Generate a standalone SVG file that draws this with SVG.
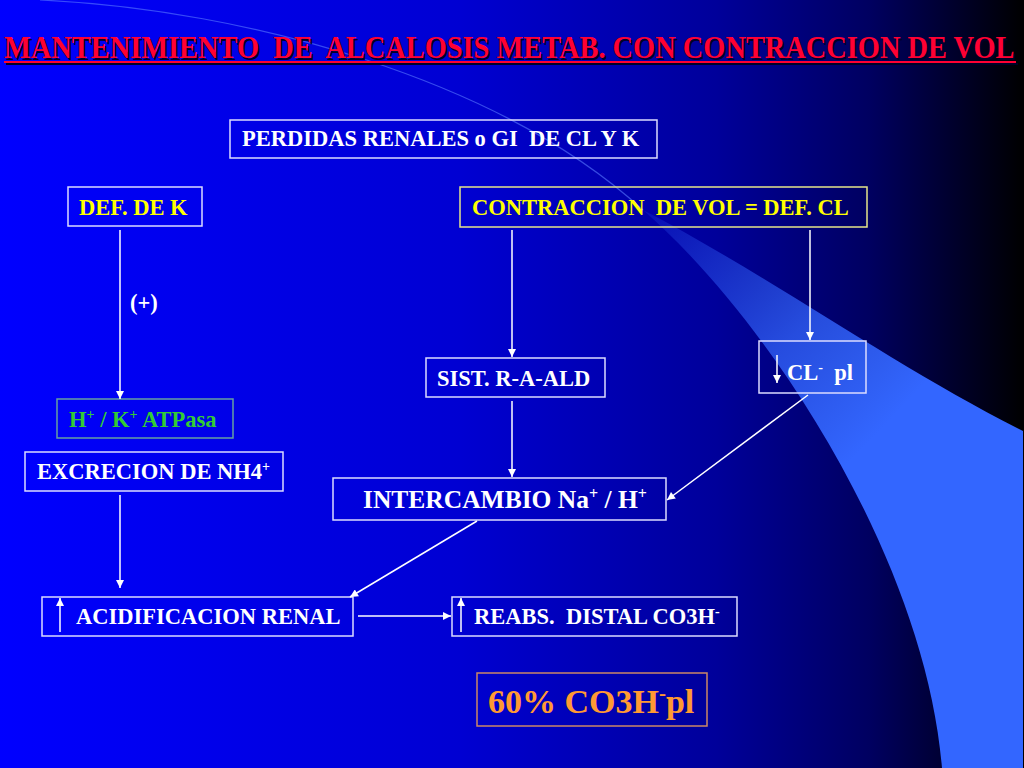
<svg xmlns="http://www.w3.org/2000/svg" width="1024" height="768" viewBox="0 0 1024 768">
<defs>
  <linearGradient id="bg" x1="0" y1="0" x2="1" y2="0">
    <stop offset="0" stop-color="#0000ff"/>
    <stop offset="0.45" stop-color="#0000d2"/>
    <stop offset="0.7" stop-color="#00009a"/>
    <stop offset="0.85" stop-color="#000060"/>
    <stop offset="0.95" stop-color="#000020"/>
    <stop offset="1" stop-color="#000000"/>
  </linearGradient>
  <linearGradient id="sw" gradientUnits="userSpaceOnUse" x1="650" y1="210" x2="880" y2="430">
    <stop offset="0" stop-color="#3366ff" stop-opacity="0.15"/>
    <stop offset="0.6" stop-color="#3366ff" stop-opacity="0.75"/>
    <stop offset="1" stop-color="#3366ff" stop-opacity="1"/>
  </linearGradient>
  <marker id="ah" viewBox="0 0 10 10" refX="10" refY="5" markerWidth="9" markerHeight="8" markerUnits="userSpaceOnUse" orient="auto">
    <path d="M0,0 L10,5 L0,10 z" fill="#ffffff"/>
  </marker>
</defs>
<style>
  .box{fill:none;stroke:#dcdcff;stroke-width:1.5}
  .t{font-family:"Liberation Serif","Times New Roman",serif;font-weight:bold;font-size:22.5px;white-space:pre}
  .ttl{font-size:31px}
  .w{fill:#ffffff}
  .y{fill:#ffff00}
  .g{fill:#33cc33}
  .o{fill:#ff9933}
  .c{fill:none;stroke:#ffffff;stroke-width:1.5;marker-end:url(#ah)}
</style>

<rect x="0" y="0" width="1024" height="768" fill="url(#bg)"/>
<path d="M643,210 C760,270 900,370 1023,431 L1023,768 L942,768 C925,560 770,320 643,210 Z" fill="url(#sw)"/>
<path d="M40,0 C250,10 500,80 643,210" fill="none" stroke="#5a7cff" stroke-width="1.2" stroke-opacity="0.6"/>

<g id="title">
  <g transform="translate(6,60) scale(0.916,1)">
    <text x="0" y="0" class="t ttl" fill="#000028">MANTENIMIENTO  DE  ALCALOSIS METAB. CON CONTRACCION DE VOL</text>
  </g>
  <rect x="6" y="63" width="1012" height="2" fill="#000028"/>
  <g transform="translate(4,58) scale(0.916,1)">
    <text x="0" y="0" class="t ttl" fill="#ff0033">MANTENIMIENTO  DE  ALCALOSIS METAB. CON CONTRACCION DE VOL</text>
  </g>
  <rect x="4" y="61" width="1012" height="2" fill="#ff0033"/>
</g>

<g id="perdidas">
  <rect class="box" x="230" y="120" width="427" height="38"/>
  <text class="t w" x="242" y="146">PERDIDAS RENALES o GI  DE CL Y K</text>
</g>

<g id="defk">
  <rect class="box" x="68" y="187" width="134" height="39"/>
  <text class="t y" x="79" y="215">DEF. DE K</text>
</g>

<g id="contraccion">
  <rect class="box" x="460" y="187" width="407" height="40" style="stroke:#e6e68a"/>
  <text class="t y" x="472" y="215">CONTRACCION  DE VOL = DEF. CL</text>
</g>

<g id="plus">
  <text class="t w" x="130" y="310">(+)</text>
</g>

<g id="atpasa">
  <rect class="box" x="57" y="399" width="176" height="39" style="stroke:#66a0a0"/>
  <text class="t g" x="69" y="427">H<tspan dy="-8" font-size="14">+</tspan><tspan dy="8"> / K</tspan><tspan dy="-8" font-size="14">+</tspan><tspan dy="8"> ATPasa</tspan></text>
</g>

<g id="excrecion">
  <rect class="box" x="25" y="452" width="258" height="39"/>
  <text class="t w" x="37" y="479">EXCRECION DE NH4<tspan dy="-8" font-size="14">+</tspan></text>
</g>

<g id="sist">
  <rect class="box" x="426" y="358" width="179" height="39"/>
  <text class="t w" x="437" y="386">SIST. R-A-ALD</text>
</g>

<g id="clpl">
  <rect class="box" x="759" y="341" width="107" height="52"/>
  <line x1="777" y1="355" x2="777" y2="383" class="c"/>
  <text class="t w" x="787" y="380">CL<tspan dy="-8" font-size="14">-</tspan><tspan dy="8">  pl</tspan></text>
</g>

<g id="intercambio">
  <rect class="box" x="333" y="478" width="333" height="42"/>
  <text class="t w" x="363" y="508" style="font-size:25.5px">INTERCAMBIO Na<tspan dy="-9" font-size="16">+</tspan><tspan dy="9"> / H</tspan><tspan dy="-9" font-size="16">+</tspan></text>
</g>

<g id="acidificacion">
  <rect class="box" x="42" y="597" width="311" height="39"/>
  <line x1="60" y1="632" x2="60" y2="598" class="c"/>
  <text class="t w" x="76" y="624">ACIDIFICACION RENAL</text>
</g>

<g id="reabs">
  <rect class="box" x="452" y="597" width="285" height="39"/>
  <line x1="461" y1="632" x2="461" y2="598" class="c"/>
  <text class="t w" x="474" y="624">REABS.  DISTAL CO3H<tspan dy="-8" font-size="14">-</tspan></text>
</g>

<g id="co3h">
  <rect class="box" x="477" y="673" width="230" height="53" style="stroke:#cc8866"/>
  <text class="t o" x="488" y="713" style="font-size:34px">60% CO3H<tspan dy="-13" font-size="21">-</tspan><tspan dy="13">pl</tspan></text>
</g>

<g id="connectors">
  <line class="c" x1="120" y1="230" x2="120" y2="399"/>
  <line class="c" x1="120" y1="495" x2="120" y2="588"/>
  <line class="c" x1="512" y1="230" x2="512" y2="357"/>
  <line class="c" x1="512" y1="401" x2="512" y2="477"/>
  <line class="c" x1="810" y1="230" x2="810" y2="340"/>
  <line class="c" x1="808" y1="395" x2="667" y2="500"/>
  <line class="c" x1="477" y1="521" x2="350" y2="597"/>
  <line class="c" x1="358" y1="616" x2="451" y2="616"/>
</g>
</svg>
